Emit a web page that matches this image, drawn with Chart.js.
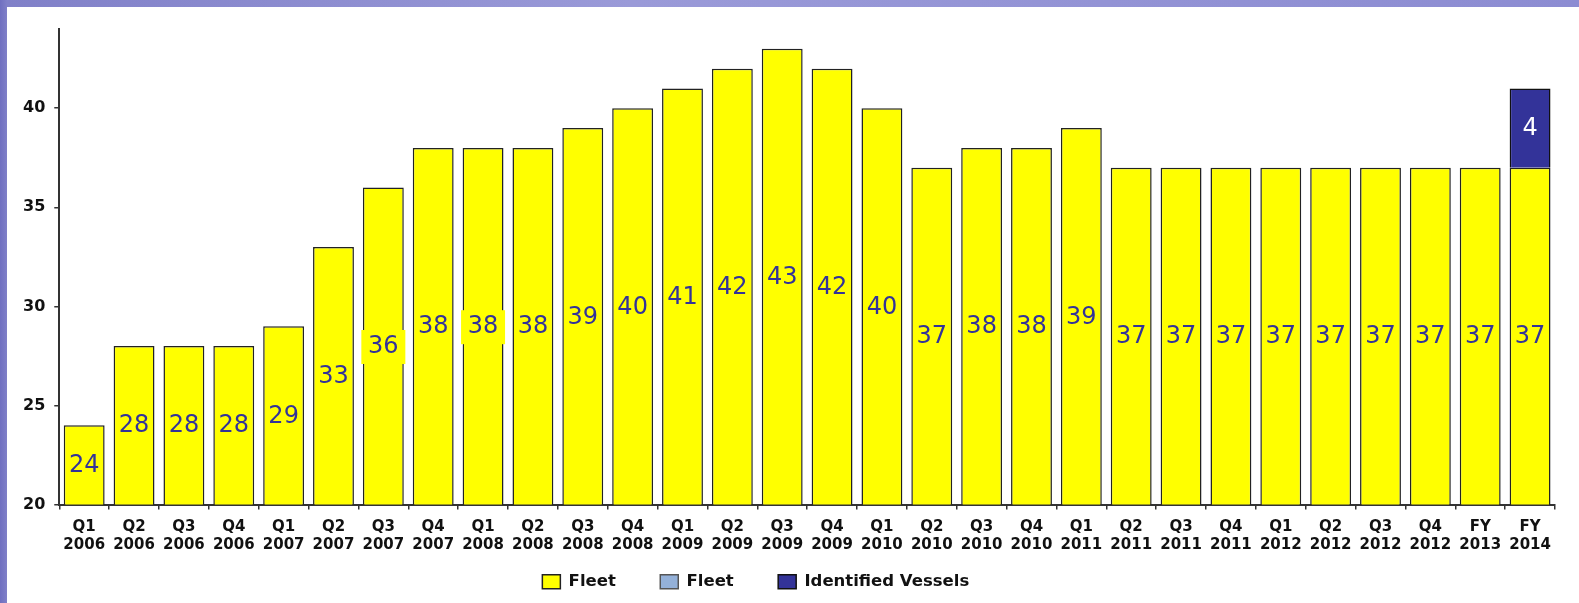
<!DOCTYPE html>
<html>
<head>
<meta charset="utf-8">
<script src="https://cdn.jsdelivr.net/npm/chart.js@4/dist/chart.umd.min.js"></script>
<style>
  html, body { margin: 0; padding: 0; }
  body {
    width: 1579px; height: 603px; overflow: hidden;
    background: linear-gradient(90deg, #6f6fc0 0px, #8080c8 7px, #9a9ad8 40%, #8c8cd2 100%);
  }
  #wrap {
    position: absolute; left: 7px; top: 7px; width: 1572px; height: 596px;
    background: #ffffff;
  }
</style>
</head>
<body>
<div id="wrap"><canvas id="fleetChart"></canvas></div>
<script>
// categories (two-line labels)
var quarters = [
  ['Q1', '2006'], ['Q2', '2006'], ['Q3', '2006'], ['Q4', '2006'],
  ['Q1', '2007'], ['Q2', '2007'], ['Q3', '2007'], ['Q4', '2007'],
  ['Q1', '2008'], ['Q2', '2008'], ['Q3', '2008'], ['Q4', '2008'],
  ['Q1', '2009'], ['Q2', '2009'], ['Q3', '2009'], ['Q4', '2009'],
  ['Q1', '2010'], ['Q2', '2010'], ['Q3', '2010'], ['Q4', '2010'],
  ['Q1', '2011'], ['Q2', '2011'], ['Q3', '2011'], ['Q4', '2011'],
  ['Q1', '2012'], ['Q2', '2012'], ['Q3', '2012'], ['Q4', '2012'],
  ['FY', '2013'], ['FY', '2014']
];
var fleet = [24, 28, 28, 28, 29, 33, 36, 38, 38, 38, 39, 40, 41, 42, 43, 42,
             40, 37, 38, 38, 39, 37, 37, 37, 37, 37, 37, 37, 37, 37];
var fleetOther = quarters.map(function () { return null; });
var identified = [null, null, null, null, null, null, null, null, null, null,
                  null, null, null, null, null, null, null, null, null, null,
                  null, null, null, null, null, null, null, null, null, 4];
var yTicks = [20, 25, 30, 35, 40];

// a couple of labels in the original sit on a small yellow box
var boxedLabels = [6, 8];

// draws the numbers in the middle of each bar
var barLabels = {
  id: 'barLabels',
  afterDatasetsDraw: function (chart) {
    var ctx = chart.ctx;
    var bottom = chart.chartArea.bottom;
    ctx.save();
    ctx.font = '24px "DejaVu Sans"';
    ctx.textAlign = 'center';
    ctx.textBaseline = 'middle';
    chart.data.datasets.forEach(function (ds, i) {
      var meta = chart.getDatasetMeta(i);
      meta.data.forEach(function (bar, j) {
        var v = ds.data[j];
        if (v == null || v === 0) return;
        var base = Math.min(bar.base, bottom);
        var cy = (bar.y + base) / 2 + 1;
        if (i === 0 && boxedLabels.indexOf(j) >= 0) {
          ctx.fillStyle = '#ffff00';
          ctx.fillRect(bar.x - 22, cy - 17, 44, 34);
        }
        ctx.fillStyle = ds.labelColor;
        ctx.fillText(String(v), bar.x, cy);
      });
    });
    ctx.restore();
  }
};

var ctx = document.getElementById('fleetChart').getContext('2d');
var fleetChart = new Chart(ctx, {
  type: 'bar',
  data: {
    labels: quarters,
    datasets: [{
      label: 'Fleet',
      data: fleet,
      backgroundColor: '#ffff00',
      borderColor: '#222222',
      borderWidth: 1.5,
      labelColor: '#333399'
    }, {
      label: 'Fleet',
      data: fleetOther,
      backgroundColor: '#94b1d9',
      borderColor: '#555555',
      borderWidth: 1.5,
      labelColor: '#333399'
    }, {
      label: 'Identified Vessels',
      data: identified,
      backgroundColor: '#333399',
      borderColor: '#111111',
      borderWidth: 1.5,
      labelColor: '#ffffff'
    }]
  },
  options: {
    responsive: true,
    maintainAspectRatio: false,
    animation: false,
    layout: { padding: { left: 7, right: 24, top: 22, bottom: 3 } },
    datasets: { bar: { barPercentage: 0.82, categoryPercentage: 1.0 } },
    scales: {
      x: {
        stacked: true,
        offset: true,
        grid: { display: true, offset: true, drawOnChartArea: false, color: '#333333', lineWidth: 1.5, tickLength: 5 },
        border: { display: true, color: '#333333', width: 2 },
        ticks: {
          autoSkip: false, maxRotation: 0, minRotation: 0, padding: 9,
          color: '#111111',
          font: { family: '"DejaVu Sans"', weight: 'bold', size: 15, lineHeight: 1.2 }
        }
      },
      y: {
        stacked: true,
        min: 20, max: 44,
        afterBuildTicks: function (axis) {
          axis.ticks = yTicks.map(function (v) { return { value: v }; });
        },
        grid: { display: true, drawOnChartArea: false, color: '#333333', lineWidth: 1.5, tickLength: 5 },
        border: { display: true, color: '#333333', width: 2 },
        ticks: {
          padding: 9, color: '#111111',
          font: { family: '"DejaVu Sans"', weight: 'bold', size: 16 }
        }
      }
    },
    plugins: {
      tooltip: { enabled: false },
      legend: {
        position: 'bottom',
        labels: {
          boxWidth: 18, boxHeight: 14, padding: 10,
          color: '#111111',
          font: { family: '"DejaVu Sans"', weight: 'bold', size: 16.5 },
          generateLabels: function (chart) {
            var items = Chart.defaults.plugins.legend.labels.generateLabels(chart);
            items.forEach(function (it, k) {
              var pad = k < items.length - 1 ? 6 : 10;
              it.text = it.text + ' '.repeat(pad);
            });
            return items;
          }
        }
      }
    }
  },
  plugins: [barLabels]
});
</script>
</body>
</html>
